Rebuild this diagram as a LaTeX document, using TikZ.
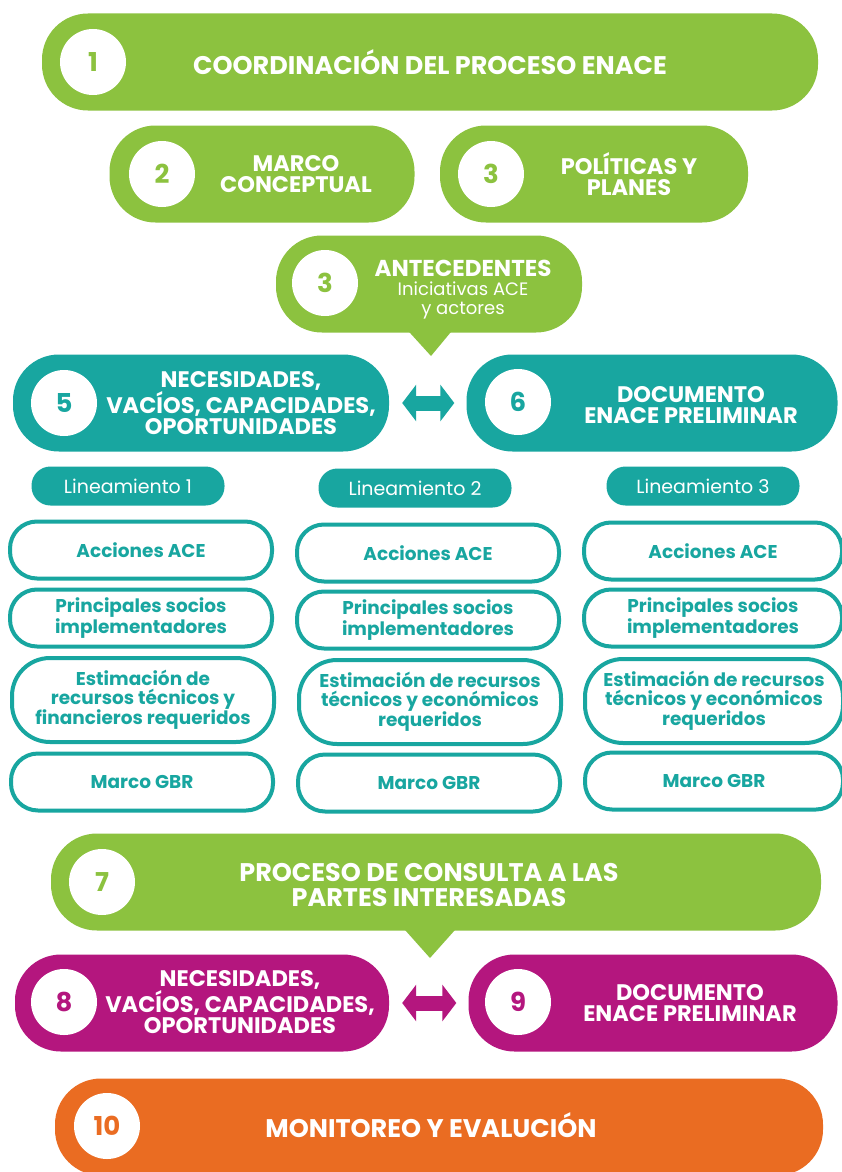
\documentclass[tikz,border=0pt]{standalone}
\usepackage{fontspec}
\setmainfont{Poppins}
\usetikzlibrary{arrows.meta}

\definecolor{verde}{RGB}{140,194,63}
\definecolor{turquesa}{RGB}{24,166,160}
\definecolor{fucsia}{RGB}{180,22,126}
\definecolor{naranja}{RGB}{234,108,34}

\tikzset{
  etapa/.style={rounded corners=46pt, minimum height=97pt, inner sep=0pt},
  numero/.style={circle, fill=white, minimum size=66pt, inner sep=0pt, font=\bfseries\fontsize{26}{26}\selectfont},
  titulo/.style={text=white, align=center, inner sep=0pt, font=\bfseries\fontsize{22.5}{21}\selectfont},
  grande/.style={titulo, font=\bfseries\fontsize{25.5}{25}\selectfont},
  linea/.style={fill=turquesa, rounded corners=19pt, minimum width=193pt, minimum height=39pt, inner sep=0pt, text=white, font=\fontsize{19}{19}\selectfont},
  tarea/.style={draw=turquesa, line width=4pt, fill=white, rounded corners=27pt, minimum width=258pt, minimum height=57pt, inner sep=0pt, text=turquesa, align=center, font=\bfseries\fontsize{18.5}{18.5}\selectfont},
  tareaalta/.style={tarea, rounded corners=38pt, minimum height=84pt},
  doble/.style={line width=15pt, {Triangle[width=36pt,length=14pt]}-{Triangle[width=36pt,length=14pt]}}
}

\begin{document}
\begin{tikzpicture}[x=1pt, y=-1pt]
    \useasboundingbox (0,0) rectangle (841,1172);
    \fill[white] (0,0) rectangle (841,1172);

    % coordinacion
    \node[etapa, fill=verde, minimum width=776pt] at (430,62) (b1) {};
    \node[numero, text=verde] at (93,62) (n1) {1};
    \node[grande] at (430,62) (t1) {COORDINACIÓN DEL PROCESO ENACE};

    % marco y politicas
    \node[etapa, fill=verde, minimum width=305pt] at (262,174) (b2) {};
    \node[numero, text=verde] at (162,174) (n2) {2};
    \node[titulo] at (296,174) (t2) {MARCO\\CONCEPTUAL};
    \node[etapa, fill=verde, minimum width=308pt] at (594,174) (b3) {};
    \node[numero, text=verde] at (491,174) (n3) {3};
    \node[titulo] at (629,174) (t3) {POLÍTICAS Y\\PLANES};

    % antecedentes
    \node[etapa, fill=verde, minimum width=306pt] at (429,284) (b4) {};
    \coordinate (p4) at (431,356);
    \fill[verde] ([xshift=-21pt,yshift=2pt]b4.south) -- ([xshift=23pt,yshift=2pt]b4.south) -- (p4) -- cycle;
    \node[numero, text=verde] at (325,283) (n4) {3};
    \node[titulo, font=\fontsize{18}{19}\selectfont] at (463,290) (t4) {{\bfseries\fontsize{23}{19}\selectfont ANTECEDENTES}\\Iniciativas ACE\\y actores};

    % necesidades y documento
    \node[etapa, fill=turquesa, minimum width=376pt] at (201,403) (b5) {};
    \node[numero, text=turquesa] at (64,403) (n5) {5};
    \node[titulo] at (241,403) (t5) {NECESIDADES,\\VACÍOS, CAPACIDADES,\\OPORTUNIDADES};
    \node[etapa, fill=turquesa, minimum width=371pt] at (652,403) (b6) {};
    \node[numero, text=turquesa] at (518,402) (n6) {6};
    \node[titulo] at (691,405) (t6) {DOCUMENTO\\ENACE PRELIMINAR};
    \draw[doble, turquesa, shorten <=13pt, shorten >=12pt] (b5.east) -- (b6.west);

    % lineamientos
    \node[linea] at (128,486) (l1) {Lineamiento 1};
    \node[linea] at (415,488) (l2) {Lineamiento 2};
    \node[linea] at (703,486) (l3) {Lineamiento 3};

    \node[tarea, minimum width=262pt] at (141,550) (a1) {Acciones ACE};
    \node[tarea, minimum width=262pt] at (428,553) (a2) {Acciones ACE};
    \node[tarea] at (713,551) (a3) {Acciones ACE};
    \node[tarea, minimum width=262pt] at (141,618) (s1) {Principales socios\\implementadores};
    \node[tarea, minimum width=262pt] at (428,620) (s2) {Principales socios\\implementadores};
    \node[tarea] at (713,618) (s3) {Principales socios\\implementadores};
    \node[tareaalta, minimum width=262pt] at (143,700) (e1) {Estimación de\\recursos técnicos y\\financieros requeridos};
    \node[tareaalta, minimum width=262pt] at (430,702) (e2) {Estimación de recursos\\técnicos y económicos\\requeridos};
    \node[tareaalta] at (714,701) (e3) {Estimación de recursos\\técnicos y económicos\\requeridos};
    \node[tarea, minimum width=262pt] at (142,782) (m1) {Marco GBR};
    \node[tarea, minimum width=262pt] at (429,783) (m2) {Marco GBR};
    \node[tarea] at (714,781) (m3) {Marco GBR};

    % consulta
    \node[etapa, fill=verde, minimum width=770pt] at (436,882) (b7) {};
    \coordinate (p7) at (430,958);
    \fill[verde] ([xshift=-33pt,yshift=3pt]b7.south) -- ([xshift=21pt,yshift=3pt]b7.south) -- (p7) -- cycle;
    \node[numero, text=verde] at (102,882) (n7) {7};
    \node[grande] at (429,885) (t7) {PROCESO DE CONSULTA A LAS\\PARTES INTERESADAS};

    % necesidades y documento
    \node[etapa, fill=fucsia, minimum width=374pt] at (202,1003) (b8) {};
    \node[numero, text=fucsia] at (64,1002) (n8) {8};
    \node[titulo] at (240,1002) (t8) {NECESIDADES,\\VACÍOS, CAPACIDADES,\\OPORTUNIDADES};
    \node[etapa, fill=fucsia, minimum width=369pt] at (653,1003) (b9) {};
    \node[numero, text=fucsia] at (518,1002) (n9) {9};
    \node[titulo] at (690,1003) (t9) {DOCUMENTO\\ENACE PRELIMINAR};
    \draw[doble, fucsia, shorten <=13pt, shorten >=12pt] (b8.east) -- (b9.west);

    % monitoreo
    \node[etapa, fill=naranja, minimum width=768pt] at (439,1127) (b10) {};
    \node[numero, text=naranja] at (107,1126) (n10) {10};
    \node[grande] at (431,1125) (t10) {MONITOREO Y EVALUCIÓN};
\end{tikzpicture}
\end{document}
